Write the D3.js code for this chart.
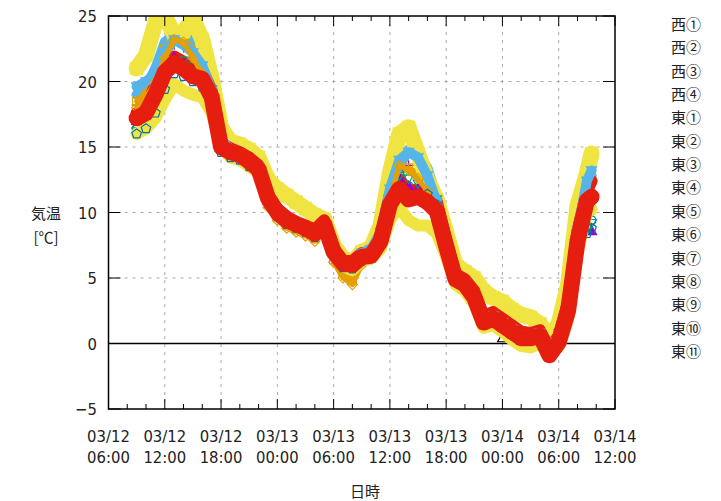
<!DOCTYPE html>
<html>
<head>
<meta charset="utf-8">
<script src="https://cdn.jsdelivr.net/npm/d3@7"></script>
<style>
  body { margin: 0; background: #fff; }
  svg { display: block; }
  .num { font-family: 'Liberation Sans Narrow', 'DejaVu Sans Condensed', sans-serif; font-size: 16.5px; fill: #222; }
  .jp { font-family: 'Noto Sans CJK JP', sans-serif; font-size: 15px; fill: #222; }
</style>
</head>
<body>
<div id="chart"></div>
<script>
// hours since 03/12 00:00
const hours = [9, 10, 11, 12, 13, 14, 15, 16, 17, 18, 19, 20, 21, 22, 23, 24, 25, 26, 27, 28,
  29, 30, 31, 32, 33, 34, 35, 36, 37, 38, 39, 40, 41, 42, 43, 44, 45, 46, 47, 48,
  49, 50, 51, 52, 53, 54, 55, 56, 57, 57.5];

const seriesNames = ["西①", "西②", "西③", "西④", "東①", "東②", "東③", "東④", "東⑤", "東⑥", "東⑦", "東⑧", "東⑨", "東⑩", "東⑪"];

const nishi1 = [18.2, 18.8, 20.2, 22.0, 22.8, 22.6, 21.8, 20.8, 19.0, 15.2, 14.6, 14.3, 13.8, 13.2, 10.8, 9.8, 9.2, 8.9, 8.6, 8.2,
  8.8, 6.8, 5.9, 5.8, 6.6, 6.9, 8.1, 11.4, 13.4, 13.6, 13.0, 11.8, 10.4, 7.1, 4.9, 4.4, 3.4, 1.6, 1.9, 1.4,
  0.9, 0.4, 0.4, 0.6, -0.6, 0.6, 3.4, 9.6, 13.4, 14.0];
const nishi2 = [16.8, 17.2, 18.4, 20.2, 21.6, 21.4, 20.6, 20.0, 18.5, 15.0, 14.5, 14.2, 13.7, 13.2, 10.9, 9.9, 9.3, 9.0, 8.7, 8.3,
  8.9, 6.9, 6.0, 5.9, 6.5, 6.8, 8.0, 11.6, 13.8, 13.0, 12.4, 11.6, 10.8, 7.3, 5.0, 4.6, 3.6, 1.7, 2.0, 1.5,
  1.0, 0.5, 0.5, 0.7, -0.4, 0.7, 3.0, 8.0, 10.0, 10.8];
const nishi3 = [19.0, 19.6, 21.0, 23.0, 23.6, 23.6, 23.0, 21.4, 19.2, 15.4, 14.6, 14.3, 13.8, 13.2, 10.9, 9.9, 9.3, 9.0, 8.7, 8.3,
  8.9, 6.9, 6.0, 5.9, 6.7, 7.0, 8.2, 11.5, 13.5, 14.8, 14.6, 13.4, 11.2, 7.4, 5.0, 4.5, 3.5, 1.7, 2.0, 1.6,
  1.0, 0.5, 0.5, 0.7, -0.5, 0.8, 3.6, 9.0, 12.0, 12.8];
const nishi4 = [18.5, 19.2, 20.5, 22.5, 23.8, 23.6, 22.4, 21.0, 19.0, 15.2, 14.5, 14.2, 13.7, 13.1, 10.6, 9.6, 9.0, 8.7, 8.4, 8.0,
  8.6, 6.4, 5.4, 4.8, 6.2, 6.6, 8.0, 11.4, 13.2, 13.4, 13.0, 12.0, 10.4, 7.2, 4.9, 4.4, 3.4, 1.6, 1.9, 1.4,
  0.9, 0.4, 0.4, 0.6, -0.6, 0.4, 2.6, 8.4, 12.2, 13.0];
const higashi1 = [21.0, 22.0, 24.5, 25.0, 23.6, 23.8, 24.8, 23.2, 20.2, 16.5, 15.4, 15.2, 14.8, 14.2, 12.5, 11.8, 11.3, 10.8, 10.3, 9.8,
  9.5, 7.5, 6.5, 6.2, 7.0, 7.3, 9.0, 13.0, 16.0, 16.5, 14.5, 12.5, 11.0, 8.5, 6.0, 5.5, 5.0, 4.0, 3.5, 3.2,
  2.6, 2.2, 2.0, 1.5, 0.5, 1.5, 4.5, 10.5, 13.0, 14.5];
const higashi2 = [16.4, 16.8, 18.0, 19.8, 21.0, 20.8, 20.3, 19.8, 18.2, 14.8, 14.4, 14.1, 13.6, 13.0, 10.8, 9.8, 9.2, 8.9, 8.6, 8.2,
  8.8, 6.8, 5.9, 5.8, 6.4, 6.6, 7.8, 11.2, 13.0, 12.0, 11.6, 11.2, 10.4, 7.2, 4.9, 4.5, 3.5, 1.6, 1.9, 1.4,
  0.9, 0.4, 0.4, 0.6, -0.8, 0.3, 2.4, 7.2, 9.0, 9.4];
const higashi3 = [17.6, 18.0, 19.8, 21.6, 21.9, 21.5, 21.0, 20.9, 19.3, 15.3, 14.9, 14.6, 14.2, 13.6, 11.4, 10.3, 9.7, 9.3, 9.0, 8.7,
  9.4, 7.3, 6.3, 6.3, 6.9, 7.0, 8.2, 11.3, 12.5, 11.7, 11.7, 11.3, 10.8, 8.0, 5.3, 4.9, 4.0, 2.1, 2.4, 1.9,
  1.4, 0.9, 0.8, 1.0, -0.4, 0.6, 3.2, 8.6, 11.6, 12.4];
const higashi4 = [17.0, 17.4, 18.6, 20.4, 21.4, 21.0, 20.4, 20.0, 18.6, 15.0, 14.5, 14.2, 13.7, 13.1, 10.9, 9.9, 9.3, 9.0, 8.7, 8.3,
  8.9, 6.9, 6.0, 5.9, 6.5, 6.7, 7.9, 11.0, 12.4, 11.8, 11.6, 11.0, 10.2, 7.2, 4.9, 4.4, 3.4, 1.4, 1.7, 0.4,
  0.7, 0.2, -0.1, 0.4, -1.0, 0.1, 2.4, 7.4, 10.2, 10.6];
const higashi5 = [17.4, 17.9, 19.0, 20.8, 21.8, 21.4, 20.8, 20.2, 18.8, 15.1, 14.6, 14.3, 13.8, 13.2, 10.9, 9.9, 9.3, 9.0, 8.7, 8.3,
  8.9, 6.9, 6.0, 5.9, 6.5, 6.8, 7.9, 11.0, 12.6, 12.0, 11.8, 11.2, 10.4, 7.3, 5.0, 4.5, 3.5, 1.6, 1.9, 1.4,
  0.9, 0.4, 0.4, 0.6, -0.7, 0.4, 2.6, 7.6, 9.0, 8.6];
const higashi6 = [16.2, 16.6, 17.8, 19.6, 21.2, 21.6, 21.2, 20.8, 19.4, 15.4, 14.7, 14.4, 13.9, 13.4, 11.0, 10.0, 9.4, 9.1, 8.8, 8.4,
  9.0, 7.0, 6.1, 6.0, 6.6, 6.9, 8.2, 11.0, 12.8, 12.6, 12.2, 11.8, 11.0, 7.6, 5.1, 4.7, 3.7, 1.8, 2.1, 1.6,
  1.1, 0.6, 0.6, 0.8, -0.3, 0.8, 3.4, 7.8, 8.6, 9.2];
const higashi7 = [19.6, 20.0, 20.6, 22.2, 23.2, 22.8, 22.2, 21.2, 19.3, 15.6, 14.8, 14.5, 14.0, 13.5, 11.2, 10.1, 9.5, 9.2, 8.9, 8.5,
  9.1, 7.1, 6.2, 6.1, 6.9, 7.2, 8.5, 11.8, 14.0, 14.6, 14.2, 12.8, 10.8, 7.5, 5.0, 4.6, 3.6, 1.8, 2.1, 1.6,
  1.1, 0.6, 0.6, 0.8, -0.4, 0.6, 3.2, 8.6, 12.4, 13.2];
const higashi8 = [18.0, 18.8, 20.0, 21.8, 23.2, 23.0, 21.8, 20.6, 18.8, 15.0, 14.3, 14.0, 13.5, 12.9, 10.4, 9.4, 8.8, 8.5, 8.2, 7.8,
  8.3, 6.2, 5.0, 4.5, 6.0, 6.4, 7.8, 11.0, 13.6, 13.2, 12.6, 11.6, 10.2, 7.0, 4.7, 4.2, 3.2, 1.4, 1.7, 1.2,
  0.7, 0.2, 0.2, 0.4, -0.8, 0.2, 2.4, 7.6, 10.5, 11.0];
const higashi9 = [16.0, 16.4, 17.2, 18.6, 19.8, 19.3, 19.0, 18.8, 17.6, 15.0, 14.2, 14.0, 13.5, 13.0, 10.8, 9.8, 9.2, 8.9, 8.6, 8.2,
  8.6, 6.8, 5.9, 5.6, 6.3, 6.5, 7.2, 9.4, 10.4, 9.4, 9.0, 9.0, 8.4, 6.6, 4.5, 4.0, 3.0, 1.2, 1.4, 0.9,
  0.3, -0.2, -0.3, 0.0, -0.6, -0.3, 1.8, 6.8, 10.0, 10.2];
const higashi10 = [16.0, 16.4, 17.6, 19.4, 20.6, 20.4, 20.0, 19.6, 18.0, 14.6, 14.2, 14.0, 13.5, 12.9, 10.7, 9.7, 9.1, 8.8, 8.5, 8.1,
  8.7, 6.7, 5.8, 5.7, 6.3, 6.5, 7.6, 10.8, 11.8, 11.0, 11.2, 11.4, 10.6, 7.0, 4.8, 4.3, 3.3, 1.5, 1.8, 1.3,
  0.8, 0.3, 0.3, 0.5, -0.9, 0.2, 2.2, 7.0, 8.4, 8.8];
const higashi11 = [17.2, 17.6, 19.0, 20.7, 21.4, 21.0, 20.4, 20.2, 18.8, 15.0, 14.6, 14.4, 13.9, 13.3, 11.1, 10.0, 9.4, 9.1, 8.8, 8.4,
  9.1, 7.0, 6.1, 6.0, 6.6, 6.7, 7.8, 10.6, 11.8, 11.0, 11.2, 10.8, 10.1, 7.4, 4.9, 4.5, 3.5, 1.6, 1.9, 1.4,
  0.9, 0.4, 0.4, 0.6, -0.9, 0.1, 2.5, 7.8, 10.9, 11.2];

const xTickHours = [6, 12, 18, 24, 30, 36, 42, 48, 54, 60];
const xTickDates = ["03/12", "03/12", "03/12", "03/13", "03/13", "03/13", "03/13", "03/14", "03/14", "03/14"];
const xTickTimes = ["06:00", "12:00", "18:00", "00:00", "06:00", "12:00", "18:00", "00:00", "06:00", "12:00"];
const yTicks = [-5, 0, 5, 10, 15, 20, 25];

const allValues = [nishi1, nishi2, nishi3, nishi4, higashi1, higashi2, higashi3, higashi4,
  higashi5, higashi6, higashi7, higashi8, higashi9, higashi10, higashi11];

// gnuplot-like styles: colour cycle, point type, width of the dense band
const palette = ["#9400d3", "#009e73", "#56b4e9", "#e69f00", "#f0e442", "#0072b2", "#e51e10", "#000000"];
const pointTypes = ["plus", "cross", "star", "square", "squareF", "circle", "circleF", "tri", "triF",
  "itri", "itriF", "diamond", "diamondF", "penta", "pentaF"];
const bandWidth = [0, 0, 10, 5, 16, 0, 12, 0, 0, 0, 10, 5, 12, 0, 16];

const width = 721, height = 501;
const margin = { top: 16, right: 106, bottom: 92, left: 108.5 };
const plot = { left: margin.left, right: width - margin.right, top: margin.top, bottom: height - margin.bottom };

const svg = d3.select("#chart").append("svg").attr("width", width).attr("height", height);

const x = d3.scaleLinear().domain([6, 60]).range([plot.left, plot.right]);
const y = d3.scaleLinear().domain([-5, 25]).range([plot.bottom, plot.top]);

svg.append("defs").append("clipPath").attr("id", "clip")
  .append("rect")
  .attr("x", plot.left).attr("y", plot.top)
  .attr("width", plot.right - plot.left).attr("height", plot.bottom - plot.top);

// grid
const grid = svg.append("g").attr("stroke", "#aaa").attr("stroke-dasharray", "3,5").attr("stroke-width", 1);
grid.selectAll("line.gx").data(xTickHours.slice(1, -1)).join("line")
  .attr("x1", d => x(d)).attr("x2", d => x(d)).attr("y1", plot.top).attr("y2", plot.bottom);
grid.selectAll("line.gy").data(yTicks.filter(d => d !== 0 && d !== -5 && d !== 25)).join("line")
  .attr("x1", plot.left).attr("x2", plot.right).attr("y1", d => y(d)).attr("y2", d => y(d));

// zero axis
svg.append("line").attr("x1", plot.left).attr("x2", plot.right)
  .attr("y1", y(0)).attr("y2", y(0)).attr("stroke", "#000").attr("stroke-width", 1.5);

function markerPath(type, s) {
  const tri = `M0,${-s}L${s * 0.95},${s * 0.7}L${-s * 0.95},${s * 0.7}Z`;
  const itri = `M0,${s}L${s * 0.95},${-s * 0.7}L${-s * 0.95},${-s * 0.7}Z`;
  const penta = d3.range(5).map(i => {
    const a = -Math.PI / 2 + i * 2 * Math.PI / 5;
    return [s * Math.cos(a), s * Math.sin(a)];
  });
  switch (type.replace("F", "")) {
    case "plus": return `M${-s},0H${s}M0,${-s}V${s}`;
    case "cross": return `M${-s * 0.8},${-s * 0.8}L${s * 0.8},${s * 0.8}M${-s * 0.8},${s * 0.8}L${s * 0.8},${-s * 0.8}`;
    case "star": return `M${-s},0H${s}M0,${-s}V${s}M${-s * 0.7},${-s * 0.7}L${s * 0.7},${s * 0.7}M${-s * 0.7},${s * 0.7}L${s * 0.7},${-s * 0.7}`;
    case "square": return `M${-s * 0.8},${-s * 0.8}H${s * 0.8}V${s * 0.8}H${-s * 0.8}Z`;
    case "circle": return d3.symbol(d3.symbolCircle, Math.PI * s * s * 0.8)();
    case "tri": return tri;
    case "itri": return itri;
    case "diamond": return `M0,${-s}L${s},0L0,${s}L${-s},0Z`;
    case "penta": return "M" + penta.map(p => p.join(",")).join("L") + "Z";
  }
}

const dataLayer = svg.append("g").attr("clip-path", "url(#clip)");
const line = d3.line().x(d => x(d[0])).y(d => y(d[1]));

allValues.forEach((vals, i) => {
  const color = palette[i % palette.length];
  const type = pointTypes[i];
  const filled = type.endsWith("F");
  const pts = hours.map((h, j) => [h, vals[j]]);
  const g = dataLayer.append("g").attr("class", "series");
  // the logger data is dense, so filled markers merge into a band
  if (bandWidth[i] > 0) {
    g.append("path").attr("d", line(pts)).attr("fill", "none")
      .attr("stroke", color).attr("stroke-width", bandWidth[i])
      .attr("stroke-linejoin", "round").attr("stroke-linecap", "round");
  }
  const size = type === "squareF" ? 8 : type === "pentaF" ? 8 : filled ? 6 : 5;
  g.selectAll("path.pt").data(pts).join("path").attr("class", "pt")
    .attr("transform", d => `translate(${x(d[0])},${y(d[1])})`)
    .attr("d", markerPath(type, size))
    .attr("fill", filled ? color : "none")
    .attr("stroke", color)
    .attr("stroke-width", filled ? 0.5 : 1.2);
});

// border
svg.append("rect").attr("x", plot.left).attr("y", plot.top)
  .attr("width", plot.right - plot.left).attr("height", plot.bottom - plot.top)
  .attr("fill", "none").attr("stroke", "#000").attr("stroke-width", 1.5);

// x ticks (major every 6h, minor every 2h), top and bottom, inward
const ticks = svg.append("g").attr("stroke", "#000").attr("stroke-width", 1);
const minorX = d3.range(6, 61, 2).filter(h => !xTickHours.includes(h));
[[xTickHours, 10], [minorX, 5]].forEach(([arr, len]) => {
  ticks.append("g").selectAll("line").data(arr).join("line")
    .attr("x1", d => x(d)).attr("x2", d => x(d)).attr("y1", plot.bottom).attr("y2", plot.bottom - len);
  ticks.append("g").selectAll("line").data(arr).join("line")
    .attr("x1", d => x(d)).attr("x2", d => x(d)).attr("y1", plot.top).attr("y2", plot.top + len);
});
ticks.append("g").selectAll("line").data(yTicks).join("line")
  .attr("x1", plot.left).attr("x2", plot.left + 12).attr("y1", d => y(d)).attr("y2", d => y(d));
ticks.append("g").selectAll("line").data(yTicks).join("line")
  .attr("x1", plot.right).attr("x2", plot.right - 12).attr("y1", d => y(d)).attr("y2", d => y(d));

// tick labels
svg.append("g").selectAll("text").data(yTicks).join("text")
  .attr("class", "num").attr("x", 97).attr("y", d => y(d) + 6)
  .attr("text-anchor", "end").text(d => d < 0 ? "\u2212" + Math.abs(d) : d);

const xl = svg.append("g").selectAll("text").data(xTickHours).join("text")
  .attr("class", "num").attr("text-anchor", "middle");
xl.append("tspan").attr("x", d => x(d)).attr("y", 441.5).text((d, i) => xTickDates[i]);
xl.append("tspan").attr("x", d => x(d)).attr("y", 462.5).text((d, i) => xTickTimes[i]);

// axis titles
svg.append("text").attr("class", "jp").attr("x", 365).attr("y", 497)
  .attr("text-anchor", "middle").text("日時");
svg.append("text").attr("class", "jp").attr("x", 46).attr("y", 219)
  .attr("text-anchor", "middle").text("気温");
svg.append("text").attr("class", "jp").attr("x", 46).attr("y", 243)
  .attr("text-anchor", "middle").text("[℃]");

// legend (text only, the keys are not drawn in the original)
svg.append("g").selectAll("text").data(seriesNames).join("text")
  .attr("class", "jp").attr("x", 671).attr("y", (d, i) => 30 + i * 23.35)
  .text(d => d);
</script>
</body>
</html>
